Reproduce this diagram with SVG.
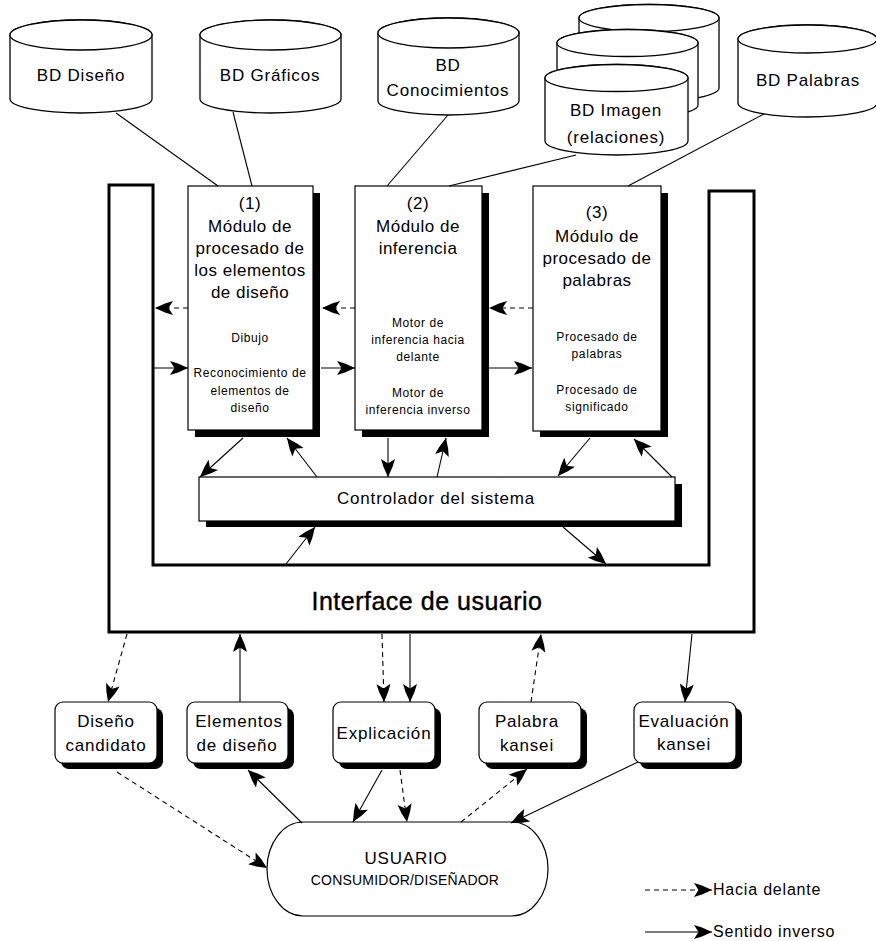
<svg xmlns="http://www.w3.org/2000/svg" width="876" height="941" viewBox="0 0 876 941">
<style>
.t{font-family:"Liberation Sans",Arial,sans-serif;fill:#000;text-anchor:middle}
.big{font-size:17px;letter-spacing:0.8px}
.mt{font-size:17px;letter-spacing:0.5px}
.sm{font-size:12px;letter-spacing:0.6px}
.cyl{fill:#fff;stroke:#000;stroke-width:1.3}
.box{fill:#fff;stroke:#000;stroke-width:1.2}
.sh{fill:#000}
.ln{stroke:#000;stroke-width:1.1;fill:none}
.d{stroke-dasharray:5,4}
.a{marker-end:url(#ah)}
</style>
<defs>
<marker id="ah" markerUnits="userSpaceOnUse" markerWidth="22" markerHeight="16" viewBox="-20 -8 22 16" refX="0" refY="0" orient="auto">
<path d="M0,0 L-10,-4.5 L-18,-7 L-13.5,0 L-18,7 L-10,4.5 Z" fill="#000"/>
</marker>
</defs>
<rect width="876" height="941" fill="#fff"/>

<g id="db-diseno">
<path class="cyl" d="M10,35 V99 A71,14 0 0 0 152,99 V35 A71,15 0 0 0 10,35 Z"/>
<ellipse class="cyl" cx="81" cy="35" rx="71" ry="15"/>
<text class="t big" x="81" y="81">BD Diseño</text>
</g>
<g id="db-graficos">
<path class="cyl" d="M200,35 V99 A70.5,14 0 0 0 341,99 V35 A70.5,15 0 0 0 200,35 Z"/>
<ellipse class="cyl" cx="270.5" cy="35" rx="70.5" ry="15"/>
<text class="t big" x="270" y="81">BD Gráficos</text>
</g>
<g id="db-conocimientos">
<path class="cyl" d="M378,33 V101 A70.5,14 0 0 0 519,101 V33 A70.5,15 0 0 0 378,33 Z"/>
<ellipse class="cyl" cx="448.5" cy="33" rx="70.5" ry="15"/>
<text class="t big" x="448" y="71">BD</text>
<text class="t big" x="448" y="96">Conocimientos</text>
</g>
<g id="db-imagen">
<path class="cyl" d="M579,18 V88 A70,13.5 0 0 0 719,88 V18 A70,13.5 0 0 0 579,18 Z"/>
<ellipse class="cyl" cx="649" cy="18" rx="70" ry="13.5"/>
<path class="cyl" d="M557,43 V105 A70.5,13.5 0 0 0 698,105 V43 A70.5,13.5 0 0 0 557,43 Z"/>
<ellipse class="cyl" cx="627.5" cy="43" rx="70.5" ry="13.5"/>
<path class="cyl" d="M545,78 V141 A71.5,14 0 0 0 688,141 V78 A71.5,13.5 0 0 0 545,78 Z"/>
<ellipse class="cyl" cx="616.5" cy="78" rx="71.5" ry="13.5"/>
<text class="t big" x="616" y="116">BD Imagen</text>
<text class="t big" x="616" y="143">(relaciones)</text>
</g>
<g id="db-palabras">
<path class="cyl" d="M738,39 V103 A69.5,14 0 0 0 877,103 V39 A69.5,14 0 0 0 738,39 Z"/>
<ellipse class="cyl" cx="807.5" cy="39" rx="69.5" ry="14"/>
<text class="t big" x="808" y="86">BD Palabras</text>
</g>

<g id="interface">
<path d="M109,185 H153 V565 H709 V191 H754 V632 H109 Z" fill="#fff" stroke="#000" stroke-width="3"/>
<text class="t" x="427" y="610" style="font-size:25px;letter-spacing:0.5px;stroke:#000;stroke-width:0.4">Interface de usuario</text>
</g>

<g id="mod1">
<rect class="sh" x="195" y="193" width="125" height="244"/>
<rect class="box" x="188" y="186" width="125" height="244"/>
<text class="t mt" x="250" y="209">(1)</text>
<text class="t mt" x="250" y="232">Módulo de</text>
<text class="t mt" x="250" y="254">procesado de</text>
<text class="t mt" x="250" y="276">los elementos</text>
<text class="t mt" x="250" y="298">de diseño</text>
<text class="t sm" x="250" y="342">Dibujo</text>
<text class="t sm" x="250" y="377">Reconocimiento de</text>
<text class="t sm" x="250" y="395">elementos de</text>
<text class="t sm" x="250" y="412">diseño</text>
</g>
<g id="mod2">
<rect class="sh" x="362" y="193" width="127" height="244"/>
<rect class="box" x="355" y="186" width="127" height="244"/>
<text class="t mt" x="418" y="209">(2)</text>
<text class="t mt" x="418" y="232">Módulo de</text>
<text class="t mt" x="418" y="254">inferencia</text>
<text class="t sm" x="418" y="327">Motor de</text>
<text class="t sm" x="418" y="344">inferencia hacia</text>
<text class="t sm" x="418" y="361">delante</text>
<text class="t sm" x="418" y="397">Motor de</text>
<text class="t sm" x="418" y="414">inferencia inverso</text>
</g>
<g id="mod3">
<rect class="sh" x="540" y="193" width="128" height="244"/>
<rect class="box" x="533" y="186" width="128" height="245"/>
<text class="t mt" x="597" y="218">(3)</text>
<text class="t mt" x="597" y="242">Módulo de</text>
<text class="t mt" x="597" y="264">procesado de</text>
<text class="t mt" x="597" y="286">palabras</text>
<text class="t sm" x="597" y="341">Procesado de</text>
<text class="t sm" x="597" y="358">palabras</text>
<text class="t sm" x="597" y="394">Procesado de</text>
<text class="t sm" x="597" y="411">significado</text>
</g>

<g id="controlador">
<rect class="sh" x="206" y="484" width="476" height="43"/>
<rect class="box" x="199" y="477" width="476" height="44"/>
<text class="t" x="436" y="504" style="font-size:17px;letter-spacing:0.8px">Controlador del sistema</text>
</g>

<g id="b-candidato">
<rect class="sh" x="61" y="708" width="102" height="61" rx="8"/>
<rect class="box" x="55" y="702" width="102" height="61" rx="8"/>
<text class="t big" x="106" y="727">Diseño</text>
<text class="t big" x="106" y="751">candidato</text>
</g>
<g id="b-elementos">
<rect class="sh" x="193" y="708" width="101" height="61" rx="8"/>
<rect class="box" x="187" y="702" width="101" height="61" rx="8"/>
<text class="t big" x="239" y="727">Elementos</text>
<text class="t big" x="237" y="751">de diseño</text>
</g>
<g id="b-explicacion">
<rect class="sh" x="339" y="708" width="102" height="61" rx="8"/>
<rect class="box" x="333" y="702" width="102" height="61" rx="8"/>
<text class="t big" x="384" y="739">Explicación</text>
</g>
<g id="b-palabra">
<rect class="sh" x="485" y="708" width="102" height="61" rx="8"/>
<rect class="box" x="479" y="702" width="102" height="61" rx="8"/>
<text class="t big" x="527" y="727">Palabra</text>
<text class="t big" x="527" y="751">kansei</text>
</g>
<g id="b-evaluacion">
<rect class="sh" x="640" y="708" width="102" height="61" rx="8"/>
<rect class="box" x="634" y="702" width="102" height="61" rx="8"/>
<text class="t big" x="684" y="727">Evaluación</text>
<text class="t big" x="684" y="750">kansei</text>
</g>

<g id="usuario">
<rect class="box" x="267" y="822" width="281" height="94" rx="36" ry="47"/>
<text class="t big" x="406" y="864">USUARIO</text>
<text class="t" x="405" y="885" style="font-size:14px;letter-spacing:0.2px">CONSUMIDOR/DISEÑADOR</text>
</g>

<g id="legend">
<line class="ln d a" x1="645" y1="890" x2="712" y2="890"/>
<text x="713" y="895" style="font-family:'Liberation Sans',Arial,sans-serif;font-size:16px;letter-spacing:0.8px">Hacia delante</text>
<line class="ln a" x1="645" y1="932" x2="712" y2="932"/>
<text x="713" y="937" style="font-family:'Liberation Sans',Arial,sans-serif;font-size:16px;letter-spacing:0.8px">Sentido inverso</text>
</g>

<g id="connectors">
<line class="ln" x1="116" y1="113" x2="218" y2="186"/>
<line class="ln" x1="233" y1="112" x2="252" y2="186"/>
<line class="ln" x1="448" y1="115" x2="387" y2="186"/>
<line class="ln" x1="576" y1="155" x2="449" y2="186"/>
<line class="ln" x1="764" y1="114" x2="628" y2="186"/>

<line class="ln d a" x1="188" y1="308" x2="155" y2="308"/>
<line class="ln a" x1="154" y1="368" x2="188" y2="368"/>
<line class="ln d a" x1="355" y1="308" x2="322" y2="308"/>
<line class="ln a" x1="321" y1="368" x2="355" y2="368"/>
<line class="ln d a" x1="533" y1="308" x2="489" y2="308"/>
<line class="ln a" x1="489" y1="368" x2="532" y2="368"/>

<line class="ln a" x1="243" y1="438" x2="200" y2="477"/>
<line class="ln a" x1="317" y1="477" x2="287" y2="438"/>
<line class="ln a" x1="388" y1="438" x2="388" y2="477"/>
<line class="ln a" x1="437" y1="477" x2="446" y2="438"/>
<line class="ln a" x1="590" y1="438" x2="558" y2="476"/>
<line class="ln a" x1="672" y1="477" x2="634" y2="439"/>
<line class="ln a" x1="286" y1="564" x2="315" y2="527"/>
<line class="ln a" x1="563" y1="527" x2="606" y2="564"/>

<line class="ln d a" x1="127" y1="634" x2="108" y2="702"/>
<line class="ln a" x1="240" y1="702" x2="240" y2="634"/>
<line class="ln d a" x1="382" y1="634" x2="384" y2="702"/>
<line class="ln a" x1="410" y1="634" x2="410" y2="702"/>
<line class="ln d a" x1="531" y1="702" x2="541" y2="634"/>
<line class="ln a" x1="692" y1="634" x2="685" y2="702"/>

<line class="ln d a" x1="117" y1="772" x2="267" y2="868"/>
<line class="ln a" x1="302" y1="823" x2="248" y2="770"/>
<line class="ln a" x1="382" y1="770" x2="353" y2="822"/>
<line class="ln d a" x1="400" y1="770" x2="407" y2="822"/>
<line class="ln d a" x1="461" y1="822" x2="527" y2="769"/>
<line class="ln a" x1="638" y1="762" x2="511" y2="823"/>
</g>
</svg>
